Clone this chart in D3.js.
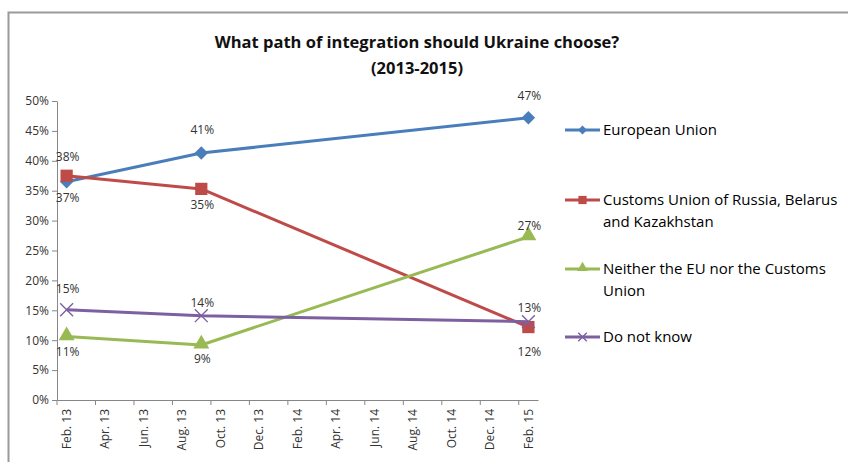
<!DOCTYPE html>
<html>
<head>
<meta charset="utf-8">
<script src="https://cdn.jsdelivr.net/npm/d3@7"></script>
<style>
  body { margin: 0; background: #fff; }
  text { font-family: "Open Sans", "DejaVu Sans", sans-serif; }
</style>
</head>
<body>
<div id="chart"></div>
<script>
// survey months (Excel date axis, one slot per month)
const surveyMonths = ["2013-02", "2013-09", "2015-02"];
const tickLabels = ["Feb. 13", "Apr. 13", "Jun. 13", "Aug. 13", "Oct. 13", "Dec. 13",
  "Feb. 14", "Apr. 14", "Jun. 14", "Aug. 14", "Oct. 14", "Dec. 14", "Feb. 15"];
const yTicks = [0, 5, 10, 15, 20, 25, 30, 35, 40, 45, 50];

const seriesNames = ["European Union", "Customs Union of Russia, Belarus|and Kazakhstan",
  "Neither the EU nor the Customs|Union", "Do not know"];
const euValues = [36.5, 41.3, 47.2];
const customsValues = [37.5, 35.3, 12.2];
const neitherValues = [10.6, 9.2, 27.3];
const dontKnowValues = [15.1, 14.1, 13.1];

// vertical nudge of each data label from its point (baseline, px)
const labelNudge = [
  [20, -19, -18],
  [-15, 20, 29],
  [19, 18, -7],
  [-17, -9, -10]
];

const W = 848, H = 462;
const svg = d3.select("#chart").append("svg").attr("width", W).attr("height", H);

// frame of the original screenshot
svg.append("path").attr("d", "M8.5,462 V12.5 H848")
  .attr("fill", "none").attr("stroke", "#9a9a9a").attr("stroke-width", 2);

const months = d3.timeMonth.range(new Date(2013, 1, 1), new Date(2015, 2, 1));
const fmtKey = d3.timeFormat("%Y-%m");
const monthKeys = months.map(fmtKey);

const x = d3.scaleBand().domain(monthKeys).range([57, 538]);
const y = d3.scaleLinear().domain([0, 50]).range([400, 101]);
const cx = k => x(k) + x.bandwidth() / 2;

// title
const title = svg.append("text").attr("x", 417).attr("y", 48)
  .attr("text-anchor", "middle").attr("font-size", 16.5).attr("font-weight", "bold").attr("fill", "#111");
title.append("tspan").attr("x", 417).text("What path of integration should Ukraine choose?");
title.append("tspan").attr("x", 417).attr("dy", 26).text("(2013-2015)");

// y axis
const yAxis = svg.append("g").attr("transform", "translate(57,0)")
  .call(d3.axisLeft(y).tickValues(yTicks).tickFormat(d => d + "%").tickSize(5).tickSizeOuter(0));
yAxis.select(".domain").attr("stroke", "#868686");
yAxis.selectAll(".tick line").attr("stroke", "#868686");
yAxis.selectAll("text").attr("font-size", 12).attr("fill", "#333").attr("x", -8)
  .style("font-family", "'Open Sans', sans-serif");

// x axis: ticks on slot boundaries, labels on slot centres
const evenKeys = monthKeys.filter((k, i) => i % 2 === 0);
const xAxis = svg.append("g").attr("transform", "translate(0,400)")
  .call(d3.axisBottom(x).tickValues(evenKeys).tickFormat((d, i) => tickLabels[i]).tickSize(5).tickSizeOuter(0));
xAxis.select(".domain").attr("stroke", "#868686");
xAxis.selectAll(".tick line").attr("stroke", "#868686")
  .attr("transform", `translate(${-x.bandwidth() / 2},0)`);
xAxis.selectAll("text")
  .attr("transform", "rotate(-90)")
  .attr("x", -9).attr("y", 0).attr("dy", "0.35em")
  .attr("text-anchor", "end").attr("font-size", 12).attr("fill", "#333")
  .style("font-family", "'Open Sans', sans-serif");

const series = [
  { name: seriesNames[0], values: euValues, color: "#4A7EBB", sym: "diamond" },
  { name: seriesNames[1], values: customsValues, color: "#BE4B48", sym: "square" },
  { name: seriesNames[2], values: neitherValues, color: "#98B954", sym: "triangle" },
  { name: seriesNames[3], values: dontKnowValues, color: "#7D60A0", sym: "x" }
];

function marker(g, s, scale) {
  if (s.sym === "diamond") {
    g.append("path").attr("d", d3.symbol(d3.symbolSquare, 90 * scale)())
      .attr("transform", "rotate(45)").attr("fill", s.color);
  } else if (s.sym === "square") {
    g.append("path").attr("d", d3.symbol(d3.symbolSquare, 150 * scale)()).attr("fill", s.color);
  } else if (s.sym === "triangle") {
    g.append("path").attr("d", d3.symbol(d3.symbolTriangle, 110 * scale)()).attr("fill", s.color)
      .attr("transform", "translate(0,-1)");
  } else {
    g.append("path").attr("d", d3.symbol(d3.symbolX, 110 * scale)())
      .attr("fill", "none").attr("stroke", s.color).attr("stroke-width", 1.4);
  }
}

const line = d3.line().x(d => cx(d.k)).y(d => y(d.v));

series.forEach(s => {
  const pts = s.values.map((v, i) => ({ k: surveyMonths[i], v: v }));
  svg.append("path").datum(pts).attr("d", line)
    .attr("fill", "none").attr("stroke", s.color).attr("stroke-width", 3).attr("stroke-linejoin", "round");
  pts.forEach(p => {
    const g = svg.append("g").attr("transform", `translate(${cx(p.k)},${y(p.v)})`);
    marker(g, s, 1);
  });
});

// data labels
series.forEach((s, si) => {
  s.values.forEach((v, i) => {
    svg.append("text")
      .attr("x", cx(surveyMonths[i]) + 1)
      .attr("y", y(v) + labelNudge[si][i])
      .attr("text-anchor", "middle").attr("font-size", 12).attr("fill", "#333")
      .text(Math.round(v) + "%");
  });
});

// legend
const legendY = [130, 200, 269, 337];
series.forEach((s, si) => {
  const g = svg.append("g").attr("transform", `translate(565,${legendY[si]})`);
  g.append("line").attr("x1", 0).attr("x2", 35).attr("stroke", s.color).attr("stroke-width", 3);
  const m = g.append("g").attr("transform", "translate(17.5,0)");
  marker(m, s, 0.45);
  const t = g.append("text").attr("x", 38).attr("y", 0)
    .attr("font-size", 15).attr("fill", "#000");
  s.name.split("|").forEach((part, pi) => {
    t.append("tspan").attr("x", 38).attr("dy", pi === 0 ? "0.35em" : 22).text(part);
  });
});
</script>
</body>
</html>
